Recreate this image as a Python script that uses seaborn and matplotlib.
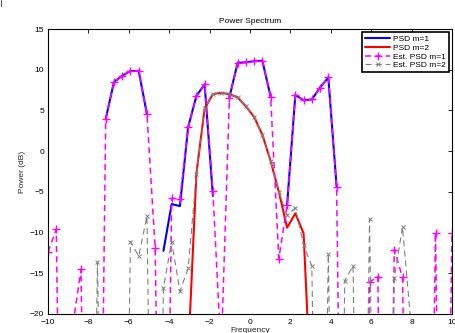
import numpy as np
import pandas as pd
import matplotlib
matplotlib.use("Agg")
import matplotlib.pyplot as plt
from matplotlib.lines import Line2D
import seaborn as sns

nan = np.nan

# ---- data ----
frequency = np.linspace(-10, 10, 50)

psd_m1 = [nan, nan, nan, nan, nan, nan, nan, 3.95, 8.5, 9.25,
          9.85, 9.85, 4.55, nan, -12.25, -6.5, -6.75, 2.95, 6.8, 8.2,
          -5.5, nan, 6.6, 10.85, 10.9, 11.05, 11.1, 6.7, nan, -6.6,
          6.9, 6.25, 6.35, 7.8, 9.05, -4.3, nan, nan, nan, nan,
          nan, nan, nan, nan, nan, nan, nan, nan, nan, nan]

psd_m2 = [nan, nan, nan, nan, nan, nan, nan, nan, nan, nan,
          nan, nan, nan, nan, nan, nan, nan, -25.0, -2.75, 5.25,
          7.0, 7.16, 7.0, 6.6, 5.5, 4.2, 2.0, -1.2, -5.0, -9.4,
          -7.65, -10.1, -32.0, nan, nan, nan, nan, nan, nan, nan,
          nan, nan, nan, nan, nan, nan, nan, nan, nan, nan]

est_m1 = [-12.4, -9.6, -80, -21.5, -14.5, -80, -80, 3.95, 8.5, 9.25,
          9.85, 9.85, 4.55, -11.9, -80, -5.8, -5.85, 2.95, 6.8, 8.2,
          -4.9, -25, 6.5, 10.85, 10.9, 11.05, 11.1, 6.7, -13.2, -6.6,
          6.9, 6.25, 6.35, 7.8, 9.05, -4.4, -80, -80, -80, -16.1,
          -15.4, -80, -12.1, -15.5, -80, -80, -80, -10.0, -80, -10.0]

est_m2 = [-80, -80, -80, -80, -80, -80, -13.6, -80, -80, -80,
          -11.1, -12.9, -8.0, -80, -16.8, -11.1, -17.2, -14.4, -2.8, 5.25,
          7.0, 7.16, 7.0, 6.6, 5.5, 4.2, 2.0, -1.2, -5.0, -7.86,
          -6.96, -11.55, -14.1, -80, -12.65, -80, -15.9, -14.1, -80, -8.35,
          -80, -80, -15.6, -9.3, -21, -80, -80, -80, -80, -80]

labels = ["PSD m=1", "PSD m=2", "Est. PSD m=1", "Est. PSD m=2"]
x_ticks = [-10, -8, -6, -4, -2, 0, 2, 4, 6, 8, 10]
y_ticks = [-20, -15, -10, -5, 0, 5, 10, 15]

# ---- style ----
sns.set_theme(style="white")
plt.rcParams['font.family'] = ['Liberation Sans', 'DejaVu Sans']
plt.rcParams['axes.edgecolor'] = 'black'
plt.rcParams['text.color'] = 'black'
plt.rcParams['xtick.color'] = 'black'
plt.rcParams['ytick.color'] = 'black'

fig = plt.figure(figsize=(4.56, 3.33), dpi=100)
ax = fig.add_axes([48 / 456, 19 / 333, 404 / 456, 285 / 333])
ax.set_facecolor('white')


def segments(x, y):
    y = np.asarray(y, dtype=float)
    ok = ~np.isnan(y)
    segs = []
    start = None
    for i, v in enumerate(ok):
        if v and start is None:
            start = i
        if (not v) and start is not None:
            segs.append((start, i))
            start = None
    if start is not None:
        segs.append((start, len(y)))
    return [(x[a:b], y[a:b]) for a, b in segs]


styles = [
    dict(color=(0, 0, 1), lw=1.5, ls='-', marker=None, ms=0, mew=0),
    dict(color=(1, 0, 0), lw=1.5, ls='-', marker=None, ms=0, mew=0),
    dict(color=(1, 0, 1), lw=1.1, ls=(0, (4.0, 2.7)), marker='+', ms=5.5, mew=1.0),
    dict(color=(0.5, 0.5, 0.5), lw=0.8, ls=(0, (5.5, 3.6)), marker='x', ms=3.2, mew=0.7),
]
series = [psd_m1, psd_m2, est_m1, est_m2]

handles = []
for vals, st, lab in zip(series, styles, labels):
    first = None
    for sx, sy in segments(frequency, vals):
        df = pd.DataFrame({"Frequency": sx, "Power": sy})
        n_before = len(ax.lines)
        kw = dict(color=st['color'], linewidth=st['lw'], linestyle=st['ls'])
        if st['marker']:
            kw.update(marker=st['marker'], markersize=st['ms'],
                      markeredgewidth=st['mew'], markeredgecolor=st['color'])
        sns.lineplot(data=df, x="Frequency", y="Power", ax=ax,
                     estimator=None, sort=False, legend=False, **kw)
        for ln in ax.lines[n_before:]:
            if st['marker']:
                ln.set_markeredgecolor(st['color'])
                ln.set_markerfacecolor(st['color'])
                ln.set_markeredgewidth(st['mew'])
            if first is None:
                first = ln
    handles.append(first)

ax.set_xlim(-10, 10)
ax.set_ylim(-20, 15)
ax.set_xticks(x_ticks)
ax.set_yticks(y_ticks)
ax.tick_params(direction='in', length=3, width=0.6, top=True, right=True,
               labelsize=6, colors='black')
ax.tick_params(axis='x', pad=3.5)
ax.tick_params(axis='y', pad=2.7)
for sp in ax.spines.values():
    sp.set_color('black')
    sp.set_linewidth(0.8)
ax.grid(False)

ax.set_title("Power Spectrum", fontsize=6, pad=4.5)
ax.set_xlabel("Frequency", fontsize=6)
ax.set_ylabel("Power (dB)", fontsize=6)
ax.xaxis.set_label_coords(0.5, -0.045)
ax.yaxis.set_label_coords(-0.055, 0.5)

leg = ax.legend(handles, labels, loc='upper right', fontsize=6, frameon=True,
                fancybox=False, edgecolor='black', framealpha=1,
                borderaxespad=0.42, handlelength=3.0, handletextpad=0.3,
                labelspacing=0.1, borderpad=0.35, numpoints=1)
leg.get_frame().set_linewidth(1.2)

# small stray mark in the top-left corner of the original image
fig.add_artist(Line2D([1.5 / 456, 1.5 / 456], [1.0, 1.0 - 6 / 333],
                      color='0.35', lw=0.8))

fig.savefig("out.png", dpi=100)
